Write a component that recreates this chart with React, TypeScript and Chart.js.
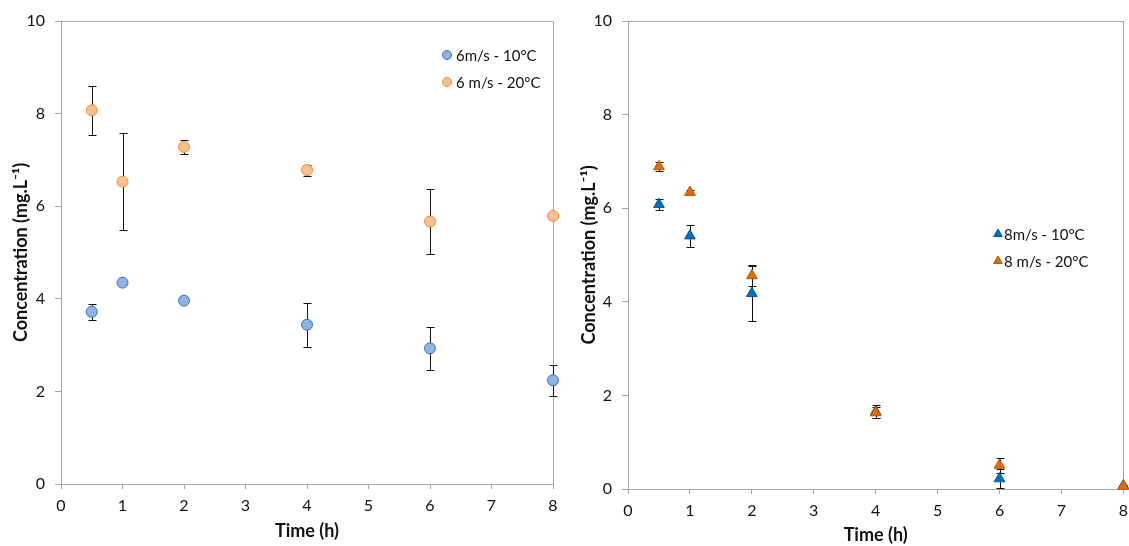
import React, { useEffect, useRef } from "react";
import { Chart, registerables } from "chart.js";

Chart.register(...registerables);

// ---------- data ----------
const timeH = [0.5, 1, 2, 4, 6, 8];
const xTickValues = [0, 1, 2, 3, 4, 5, 6, 7, 8];
const yTickValues = [0, 2, 4, 6, 8, 10];

const label6m10 = "6m/s - 10°C";
const conc6m10 = [3.72, 4.35, 3.96, 3.44, 2.93, 2.24];
const err6m10 = [0.17, 0.03, 0.03, 0.48, 0.46, 0.33];

const label6m20 = "6 m/s - 20°C";
const conc6m20 = [8.07, 6.53, 7.28, 6.78, 5.67, 5.79];
const err6m20 = [0.53, 1.05, 0.15, 0.12, 0.71, 0.03];

const label8m10 = "8m/s - 10°C";
const conc8m10 = [6.08, 5.41, 4.18, 1.65, 0.22, 0.07];
const err8m10 = [0.12, 0.23, 0.58, 0.14, 0.2, 0.02];

const label8m20 = "8 m/s - 20°C";
const conc8m20 = [6.89, 6.34, 4.56, 1.63, 0.51, 0.06];
const err8m20 = [0.09, 0.04, 0.23, 0.12, 0.16, 0.02];

const xTitle = "Time (h)";
const yTitle = "Concentration (mg.L⁻¹)";

// ---------- plugins ----------
const framePlugin = {
  id: "frameBox",
  beforeDatasetsDraw(chart: any, _a: any, opts: any) {
    const { ctx, chartArea } = chart;
    ctx.save();
    ctx.strokeStyle = opts.color;
    ctx.lineWidth = 1;
    const l = Math.floor(chartArea.left) + 0.5;
    const r = Math.floor(chartArea.right) + 0.5;
    const t = Math.floor(chartArea.top) + 0.5;
    const b = Math.floor(chartArea.bottom) + 0.5;
    ctx.beginPath();
    ctx.moveTo(l, t);
    ctx.lineTo(r, t);
    ctx.lineTo(r, b);
    ctx.stroke();
    ctx.restore();
  },
};

const errorBarPlugin = {
  id: "errorBars",
  beforeDatasetsDraw(chart: any, _a: any, opts: any) {
    const { ctx } = chart;
    const xs = chart.scales.x;
    const ys = chart.scales.y;
    ctx.save();
    ctx.strokeStyle = opts.color;
    ctx.lineWidth = 1;
    chart.data.datasets.forEach((ds: any) => {
      const errs: number[] = ds.errors || [];
      ds.data.forEach((pt: any, j: number) => {
        const e = errs[j];
        if (!e) return;
        const px = Math.round(xs.getPixelForValue(pt.x)) + 0.5;
        const top = Math.round(ys.getPixelForValue(pt.y + e)) + 0.5;
        const bot = Math.round(ys.getPixelForValue(Math.max(0, pt.y - e))) + 0.5;
        const hw = opts.capHalfWidth;
        ctx.beginPath();
        ctx.moveTo(px, top);
        ctx.lineTo(px, bot);
        ctx.moveTo(px - hw, top);
        ctx.lineTo(px + hw, top);
        ctx.moveTo(px - hw, bot);
        ctx.lineTo(px + hw, bot);
        ctx.stroke();
      });
    });
    ctx.restore();
  },
};

function drawMarker(ctx: CanvasRenderingContext2D, style: string, x: number, y: number, r: number) {
  ctx.beginPath();
  if (style === "triangle") {
    let rad = 0;
    ctx.moveTo(x + Math.sin(rad) * r, y - Math.cos(rad) * r);
    rad += (2 * Math.PI) / 3;
    ctx.lineTo(x + Math.sin(rad) * r, y - Math.cos(rad) * r);
    rad += (2 * Math.PI) / 3;
    ctx.lineTo(x + Math.sin(rad) * r, y - Math.cos(rad) * r);
    ctx.closePath();
  } else {
    ctx.arc(x, y, r, 0, Math.PI * 2);
  }
  ctx.fill();
  ctx.stroke();
}

const insideLegendPlugin = {
  id: "insideLegend",
  afterDatasetsDraw(chart: any, _a: any, opts: any) {
    const { ctx } = chart;
    ctx.save();
    ctx.font = opts.font;
    ctx.textBaseline = "middle";
    ctx.textAlign = "left";
    chart.data.datasets.forEach((ds: any, i: number) => {
      const pos = opts.items[i];
      if (!pos) return;
      ctx.fillStyle = ds.backgroundColor;
      ctx.strokeStyle = ds.borderColor;
      ctx.lineWidth = 1;
      drawMarker(ctx, ds.pointStyle, pos.x, pos.y, opts.radius);
      ctx.fillStyle = opts.color;
      ctx.fillText(ds.label, pos.x + opts.gap, pos.y + 1);
    });
    ctx.restore();
  },
};

// ---------- chart factory ----------
type Panel = {
  series: { label: string; values: number[]; errors: number[]; style: string; fill: string; border: string; radius: number; order: number }[];
  areaLeft: number;
  padRight: number;
  xAxisHeight: number;
  yTitlePad: number;
  xTitlePad: number;
  legendItems: { x: number; y: number }[];
  legendRadius: number;
  legendGap: number;
};

const AXIS_COLOR = "#A6A6A6";
const TEXT_COLOR = "#111111";

function makeConfig(p: Panel): any {
  return {
    type: "scatter",
    data: {
      datasets: p.series.map((s) => ({
        label: s.label,
        data: timeH.map((t, i) => ({ x: t, y: s.values[i] })),
        errors: s.errors,
        pointStyle: s.style,
        backgroundColor: s.fill,
        borderColor: s.border,
        pointBorderWidth: 1,
        pointRadius: s.radius,
        pointHoverRadius: s.radius,
        showLine: false,
        clip: false,
        order: s.order,
      })),
    },
    options: {
      responsive: false,
      animation: false,
      events: [],
      layout: { padding: { left: 0, right: p.padRight, top: 21, bottom: 0 } },
      plugins: {
        legend: { display: false },
        tooltip: { enabled: false },
        frameBox: { color: AXIS_COLOR },
        errorBars: { color: "#111111", capHalfWidth: 4 },
        insideLegend: {
          items: p.legendItems,
          radius: p.legendRadius,
          gap: p.legendGap,
          font: "15px Lato",
          color: TEXT_COLOR,
        },
      },
      scales: {
        x: {
          type: "linear",
          min: 0,
          max: 8,
          afterBuildTicks: (s: any) => {
            s.ticks = xTickValues.map((v) => ({ value: v }));
          },
          afterFit: (s: any) => {
            s.height = p.xAxisHeight;
          },
          grid: { display: true, drawOnChartArea: false, drawTicks: true, tickLength: 5, color: AXIS_COLOR },
          border: { display: true, color: AXIS_COLOR, width: 1 },
          ticks: { color: TEXT_COLOR, font: { family: "Lato", size: 16 }, padding: 7, maxRotation: 0 },
          title: {
            display: true,
            text: xTitle,
            color: TEXT_COLOR,
            font: { family: "Lato", size: 18, weight: "bold" },
            padding: { top: p.xTitlePad, bottom: p.xTitlePad },
          },
        },
        y: {
          type: "linear",
          min: 0,
          max: 10,
          afterBuildTicks: (s: any) => {
            s.ticks = yTickValues.map((v) => ({ value: v }));
          },
          afterFit: (s: any) => {
            s.width = p.areaLeft;
          },
          grid: { display: true, drawOnChartArea: false, drawTicks: true, tickLength: 6, color: AXIS_COLOR },
          border: { display: true, color: AXIS_COLOR, width: 1 },
          ticks: { color: TEXT_COLOR, font: { family: "Lato", size: 16 }, padding: 10 },
          title: {
            display: true,
            text: yTitle,
            color: TEXT_COLOR,
            font: { family: "Lato", size: 18, weight: "bold" },
            padding: { top: p.yTitlePad, bottom: p.yTitlePad },
          },
        },
      },
    },
    plugins: [framePlugin, errorBarPlugin, insideLegendPlugin],
  };
}

const leftPanel: Panel = {
  series: [
    { label: label6m10, values: conc6m10, errors: err6m10, style: "circle", fill: "#8EB4E3", border: "#3C6EB4", radius: 5.5, order: 1 },
    { label: label6m20, values: conc6m20, errors: err6m20, style: "circle", fill: "#FAC090", border: "#F08A35", radius: 5.5, order: 0 },
  ],
  areaLeft: 61,
  padRight: 12,
  xAxisHeight: 62,
  yTitlePad: 10,
  xTitlePad: 4,
  legendItems: [
    { x: 447, y: 55 },
    { x: 447, y: 82 },
  ],
  legendRadius: 4.5,
  legendGap: 9,
};

const rightPanel: Panel = {
  series: [
    { label: label8m10, values: conc8m10, errors: err8m10, style: "triangle", fill: "#0070C0", border: "#005A9E", radius: 6.2, order: 1 },
    { label: label8m20, values: conc8m20, errors: err8m20, style: "triangle", fill: "#E36C09", border: "#B65607", radius: 6.2, order: 0 },
  ],
  areaLeft: 63,
  padRight: 9,
  xAxisHeight: 57,
  yTitlePad: 13,
  xTitlePad: 0,
  legendItems: [
    { x: 433, y: 234 },
    { x: 433, y: 261 },
  ],
  legendRadius: 5,
  legendGap: 6,
};

function ChartCanvas({ panel, width, height, left }: { panel: Panel; width: number; height: number; left: number }) {
  const ref = useRef<HTMLCanvasElement | null>(null);
  useEffect(() => {
    if (!ref.current) return;
    const chart = new Chart(ref.current, makeConfig(panel));
    return () => chart.destroy();
  }, [panel]);
  return (
    <canvas
      ref={ref}
      width={width}
      height={height}
      style={{ position: "absolute", left, top: 0, width, height, display: "block" }}
    />
  );
}

export default function App() {
  return (
    <div
      style={{
        position: "fixed",
        left: 0,
        top: 0,
        width: 1129,
        height: 546,
        overflow: "hidden",
        background: "#ffffff",
      }}
    >
      <ChartCanvas panel={leftPanel} width={565} height={546} left={0} />
      <ChartCanvas panel={rightPanel} width={570} height={546} left={565} />
    </div>
  );
}
